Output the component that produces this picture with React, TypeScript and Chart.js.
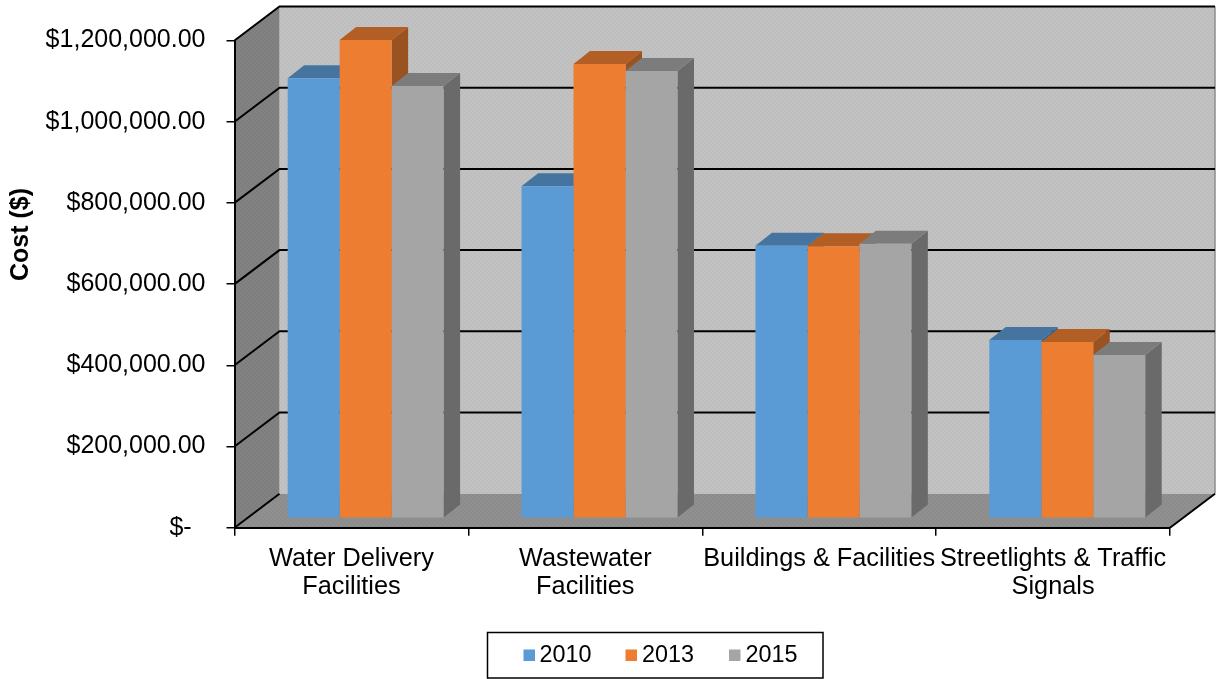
import React, { useEffect, useRef } from "react";
import { Chart, registerables } from "chart.js";

Chart.register(...registerables);

const categories = [
  ["Water Delivery", "Facilities"],
  ["Wastewater", "Facilities"],
  ["Buildings & Facilities"],
  ["Streetlights & Traffic", "Signals"],
];
const series2010 = [1084000, 818000, 671000, 439000];
const series2013 = [1178000, 1119000, 670000, 434000];
const series2015 = [1065000, 1102000, 676000, 402000];
const seriesNames = ["2010", "2013", "2015"];
const axisTitle = "Cost ($)";
const frontColors = ["#5B9BD5", "#ED7D31", "#A5A5A5"];
const topColors = ["#44749F", "#B25E25", "#7C7C7C"];
const sideColors = ["#3A648A", "#9A5220", "#6A6A6A"];

const FONT = "'Liberation Sans', Arial, sans-serif";
const AREA = { left: 234.5, right: 1170, top: 40.5, bottom: 527.7 };
const BACK = { dx: 45, dy: -34 };
const FRONT = { dx: 14.2, dy: -9.4 };
const DEPTH = { dx: 16.5, dy: -13 };

function stipple(ctx: CanvasRenderingContext2D, a: string, b: string) {
  const c = document.createElement("canvas");
  c.width = 4;
  c.height = 4;
  const g = c.getContext("2d")!;
  g.fillStyle = a;
  g.fillRect(0, 0, 4, 4);
  g.fillStyle = b;
  g.fillRect(0, 0, 2, 2);
  g.fillRect(2, 2, 2, 2);
  return ctx.createPattern(c, "repeat")!;
}

function poly(ctx: CanvasRenderingContext2D, pts: number[][], fill: any) {
  ctx.beginPath();
  pts.forEach((p, i) => (i ? ctx.lineTo(p[0], p[1]) : ctx.moveTo(p[0], p[1])));
  ctx.closePath();
  ctx.fillStyle = fill;
  ctx.fill();
}

function seg(ctx: CanvasRenderingContext2D, pts: number[][], color = "#000", w = 2) {
  ctx.beginPath();
  pts.forEach((p, i) => (i ? ctx.lineTo(p[0], p[1]) : ctx.moveTo(p[0], p[1])));
  ctx.strokeStyle = color;
  ctx.lineWidth = w;
  ctx.stroke();
}

const scenePlugin = {
  id: "scene3d",
  beforeDraw(chart: any) {
    const { ctx, chartArea: a, scales } = chart;
    const y = scales.y;
    const l = a.left, r = a.right, t = a.top, b = a.bottom;
    const { dx, dy } = BACK;
    ctx.save();
    poly(ctx, [[l + dx, t + dy], [r + dx, t + dy], [r + dx, b + dy], [l + dx, b + dy]], stipple(ctx, "#BEBEBE", "#C2C2C2"));
    poly(ctx, [[l, t], [l + dx, t + dy], [l + dx, b + dy], [l, b]], stipple(ctx, "#7E7E7E", "#828282"));
    poly(ctx, [[l, b], [l + dx, b + dy], [r + dx, b + dy], [r, b]], stipple(ctx, "#8C8C8C", "#909090"));
    seg(ctx, [[r + dx, t + dy], [r + dx, b + dy]], "#8C8C8C", 1.5);
    (y.ticks as any[]).forEach((tk) => {
      const p = y.getPixelForValue(tk.value);
      if (tk.value === 0) {
        seg(ctx, [[l, p], [l + dx, p + dy]]);
      } else {
        seg(ctx, [[l, p], [l + dx, p + dy], [r + dx, p + dy]]);
      }
    });
    seg(ctx, [[r, b], [r + dx, b + dy]]);
    ctx.restore();
  },
  beforeDatasetsDraw(chart: any) {
    const { ctx } = chart;
    ctx.save();
    ctx.translate(FRONT.dx, FRONT.dy);
    const { dx, dy } = DEPTH;
    chart.data.datasets.forEach((_: any, i: number) => {
      chart.getDatasetMeta(i).data.forEach((bar: any) => {
        const { x, y, base, width } = bar.getProps(["x", "y", "base", "width"], true);
        const L = x - width / 2, R = x + width / 2;
        poly(ctx, [[R, y], [R + dx, y + dy], [R + dx, base + dy], [R, base]], sideColors[i]);
        poly(ctx, [[L, y], [R, y], [R + dx, y + dy], [L + dx, y + dy]], topColors[i]);
      });
    });
  },
  afterDatasetsDraw(chart: any) {
    chart.ctx.restore();
  },
  afterDraw(chart: any) {
    const { ctx } = chart;
    ctx.save();
    ctx.strokeStyle = "#000";
    ctx.lineWidth = 1.5;
    ctx.strokeRect(487.5, 632.5, 335.5, 45.5);
    const swatchX = [523.5, 625.5, 729];
    const textX = [539.5, 642, 745.5];
    ctx.font = `23.4px ${FONT}`;
    ctx.textBaseline = "middle";
    ctx.textAlign = "left";
    chart.data.datasets.forEach((d: any, i: number) => {
      ctx.fillStyle = d.backgroundColor;
      ctx.fillRect(swatchX[i], 649.5, 11.5, 11.5);
      ctx.fillStyle = "#000";
      ctx.fillText(d.label, textX[i], 655.5);
    });
    ctx.translate(27.5, 234.5);
    ctx.rotate(-Math.PI / 2);
    ctx.font = `bold 25px ${FONT}`;
    ctx.textAlign = "center";
    ctx.textBaseline = "alphabetic";
    ctx.fillText(axisTitle, 0, 0);
    ctx.restore();
  },
};

export default function App() {
  const ref = useRef<HTMLCanvasElement>(null);
  useEffect(() => {
    const values = [series2010, series2013, series2015];
    const chart = new Chart(ref.current!, {
      type: "bar",
      data: {
        labels: categories,
        datasets: seriesNames.map((label, i) => ({
          label,
          data: values[i],
          backgroundColor: frontColors[i],
          borderWidth: 0,
          categoryPercentage: 2 / 3,
          barPercentage: 1,
          clip: false,
        })),
      },
      plugins: [scenePlugin],
      options: {
        responsive: false,
        animation: false,
        layout: { padding: { left: 0, right: 1218 - AREA.right, top: AREA.top, bottom: 0 } },
        plugins: { legend: { display: false }, tooltip: { enabled: false } },
        scales: {
          x: {
            afterFit: (s: any) => { s.height = 679 - AREA.bottom; },
            grid: { drawOnChartArea: false, color: "#000", lineWidth: 1.5, tickLength: 8 },
            border: { color: "#000", width: 2 },
            ticks: {
              autoSkip: false,
              maxRotation: 0,
              minRotation: 0,
              color: "#000",
              padding: 9,
              font: { family: FONT, size: 25.3, lineHeight: 1.11 },
            },
          },
          y: {
            min: 0,
            max: 1200000,
            afterFit: (s: any) => { s.width = AREA.left; },
            grid: { drawOnChartArea: false, color: "#000", lineWidth: 1.5, tickLength: 8 },
            border: { color: "#000", width: 2 },
            ticks: {
              stepSize: 200000,
              color: "#000",
              padding: 21,
              font: { family: FONT, size: 25 },
              callback: (v: any) =>
                Number(v) === 0
                  ? "$-  "
                  : "$" + Number(v).toLocaleString("en-US", { minimumFractionDigits: 2 }),
            },
          },
        },
      },
    } as any);
    return () => chart.destroy();
  }, []);
  return (
    <canvas
      ref={ref}
      width={1218}
      height={679}
      style={{ position: "absolute", left: 0, top: 0, display: "block" }}
    />
  );
}
